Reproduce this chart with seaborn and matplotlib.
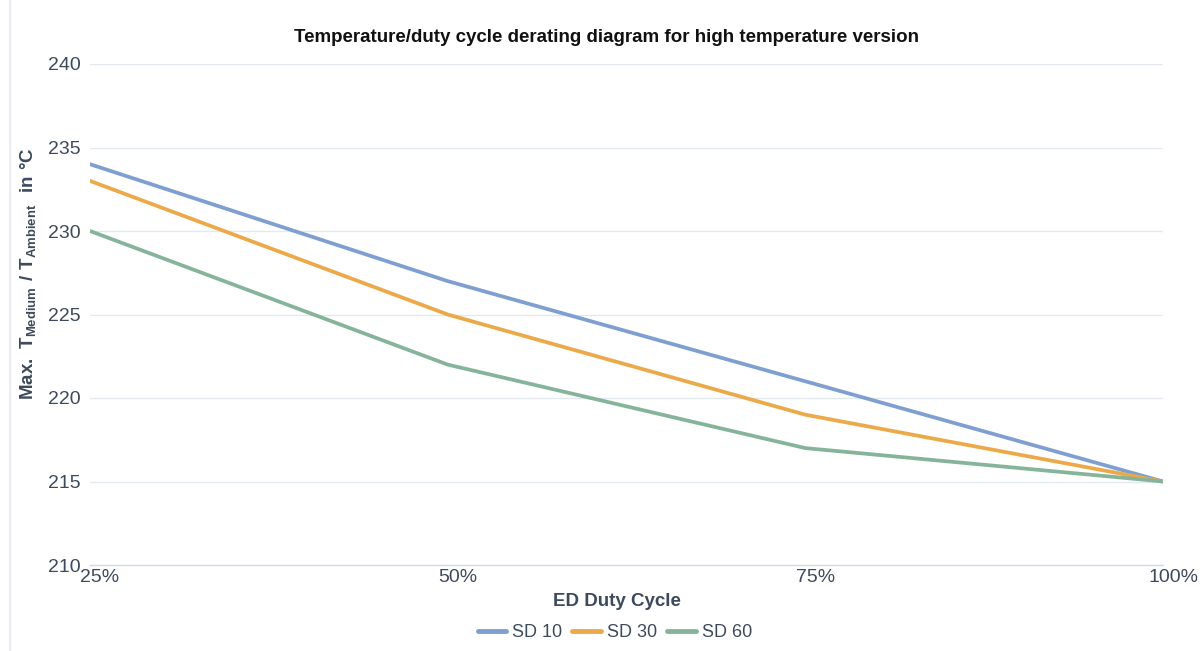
import matplotlib
matplotlib.use("Agg")
import matplotlib.pyplot as plt
import matplotlib.transforms as mtransforms
import pandas as pd
import seaborn as sns

duty = [25, 50, 75, 100]
duty_labels = ["25%", "50%", "75%", "100%"]
sd10 = [234, 227, 221, 215]
sd30 = [233, 225, 219, 215]
sd60 = [230, 222, 217, 215]
series = ["SD 10", "SD 30", "SD 60"]
colors = ["#7f9fd0", "#eba94a", "#86b49b"]

df = pd.DataFrame({
    "duty": duty * 3,
    "temp": sd10 + sd30 + sd60,
    "series": [s for s in series for _ in duty],
})

sns.set_theme(style="white")
plt.rcParams["font.family"] = ["Liberation Sans", "DejaVu Sans"]
plt.rcParams["mathtext.fontset"] = "custom"
plt.rcParams["mathtext.rm"] = "Liberation Sans"
plt.rcParams["mathtext.bf"] = "Liberation Sans:bold"

text_col = "#3d4a5c"
grid_col = "#e4e8ef"

fig = plt.figure(figsize=(12.02, 6.51), dpi=100)
fig.add_artist(plt.Line2D([10 / 1202, 10 / 1202], [0, 1], color="#e4e8ef", linewidth=1.2))
ax = fig.add_axes([90 / 1202, 1 - 565 / 651, (1163 - 90) / 1202, (565 - 64) / 651])

sns.lineplot(data=df, x="duty", y="temp", hue="series", palette=colors,
             linewidth=2.7, ax=ax, legend=True)

ax.set_xlim(25, 100)
ax.set_ylim(210, 240)
ax.set_yticks(range(210, 241, 5))
ax.set_xticks(duty)
ax.set_xticklabels(duty_labels)
ax.tick_params(axis="both", length=0, labelsize=14, colors=text_col)
ax.tick_params(axis="y", pad=7)
ax.tick_params(axis="x", pad=3)
offset = mtransforms.ScaledTranslation(10 / 100, 0, fig.dpi_scale_trans)
for lbl in ax.get_xticklabels():
    lbl.set_transform(lbl.get_transform() + offset)

ax.grid(axis="y", color=grid_col, linewidth=1)
ax.set_axisbelow(True)
for side in ["top", "right", "left"]:
    ax.spines[side].set_visible(False)
ax.spines["bottom"].set_color("#d5dae3")
ax.spines["bottom"].set_linewidth(1)

ax.set_xlabel("ED Duty Cycle", fontsize=13.5, fontweight="bold", color=text_col, labelpad=2)
ax.xaxis.set_label_coords((617 - 90) / 1073, -0.055)
ax.set_ylabel(r"$\mathbf{Max.\ T_{Medium}\ /\ T_{Ambient}\ \ in\ °C}$", fontsize=13.5,
              color=text_col)
ax.yaxis.set_label_coords(-0.048, (565 - 274) / 501)

fig.text(606 / 1202, 1 - 38 / 651, "Temperature/duty cycle derating diagram for high temperature version",
         ha="center", va="center", fontsize=13.5, fontweight="bold", color="#111111")

handles, labels = ax.get_legend_handles_labels()
ax.legend(handles, labels, loc="center", bbox_to_anchor=((615 - 90) / 1073, -0.135), ncol=3,
          frameon=False, fontsize=13, handlelength=1.6, handletextpad=0.33,
          columnspacing=0.55, labelcolor=text_col)
for line in ax.get_legend().get_lines():
    line.set_linewidth(3.5)

fig.savefig("out.png", dpi=100)
